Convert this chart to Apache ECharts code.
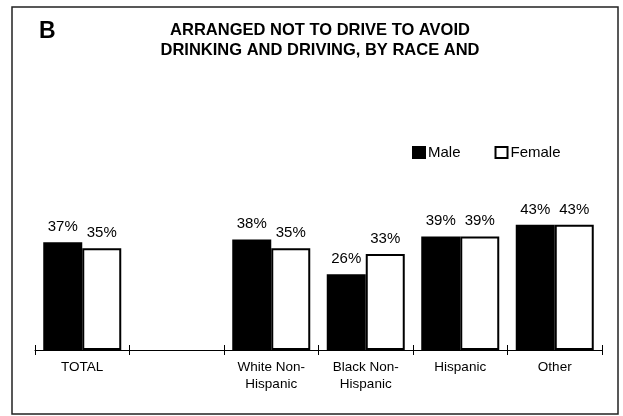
<!DOCTYPE html>
<html>
<head>
<meta charset="utf-8">
<script src="https://cdn.jsdelivr.net/npm/echarts@6/dist/echarts.min.js"></script>
<style>
  html, body { margin: 0; padding: 0; background: #fff; }
  #chart { width: 623px; height: 416px; }
</style>
</head>
<body>
<div id="chart"></div>
<script>
// Groups along the axis (the empty slot keeps a gap after TOTAL)
const categories = ['TOTAL', '', 'White Non-\nHispanic', 'Black Non-\nHispanic', 'Hispanic', 'Other'];
// Percent who arranged not to drive
const maleValues = [37, null, 38, 26, 39, 43];
const femaleValues = [35, null, 35, 33, 39, 43];
const seriesNames = ['Male', 'Female'];
const titleText = 'ARRANGED NOT TO DRIVE TO AVOID\nDRINKING AND DRIVING, BY RACE AND';
const panelLetter = 'B';

const FONT = 'Liberation Sans, Arial, sans-serif';
const chart = echarts.init(document.getElementById('chart'), null, { renderer: 'canvas' });

const labelStyle = {
  show: true,
  position: 'top',
  distance: 8,
  color: '#000',
  fontFamily: FONT,
  fontSize: 15,
  formatter: p => p.value + '%'
};

chart.setOption({
  backgroundColor: '#fff',
  animation: false,
  title: {
    text: titleText,
    left: 315,
    top: 15,
    textAlign: 'center',
    textStyle: {
      fontFamily: FONT,
      fontWeight: 'bold',
      fontSize: 16.5,
      lineHeight: 20,
      color: '#000'
    }
  },
  legend: {
    data: seriesNames,
    left: 412,
    top: 145,
    padding: 0,
    itemWidth: 12,
    itemHeight: 11,
    itemGap: 34,
    icon: 'rect',
    textStyle: { fontFamily: FONT, fontSize: 15, color: '#000', padding: [0, 0, 0, -2] }
  },
  graphic: [
    {
      type: 'rect',
      shape: { x: 12, y: 7, width: 606, height: 407 },
      style: { fill: 'none', stroke: '#222', lineWidth: 1.5 },
      silent: true
    },
    {
      type: 'text',
      left: 39,
      top: 20,
      style: {
        text: panelLetter,
        fontFamily: FONT,
        fontWeight: 'bold',
        fontSize: 23,
        fill: '#000'
      }
    }
  ],
  grid: { left: 35, right: 21, top: 204.5, bottom: 66, containLabel: false },
  xAxis: [
    {
      type: 'category',
      data: categories,
      position: 'bottom',
      axisLine: { lineStyle: { color: '#000', width: 1 } },
      axisTick: { show: true, length: 5, lineStyle: { color: '#000' } },
      axisLabel: {
        color: '#000',
        fontFamily: FONT,
        fontSize: 13.5,
        lineHeight: 17,
        margin: 9,
        interval: 0
      }
    },
    {
      type: 'category',
      data: categories,
      position: 'bottom',
      axisLine: { show: false },
      axisTick: { show: true, inside: true, length: 5, lineStyle: { color: '#000' } },
      axisLabel: { show: false }
    }
  ],
  yAxis: { type: 'value', min: 0, max: 50, show: false, splitLine: { show: false } },
  series: [
    {
      name: seriesNames[0],
      type: 'bar',
      data: maleValues,
      barWidth: 39,
      barGap: '0%',
      itemStyle: { color: '#000', borderColor: '#000', borderWidth: 2 },
      label: labelStyle
    },
    {
      name: seriesNames[1],
      type: 'bar',
      data: femaleValues,
      barWidth: 39,
      itemStyle: { color: '#fff', borderColor: '#000', borderWidth: 2 },
      label: labelStyle
    }
  ]
});
</script>
</body>
</html>
